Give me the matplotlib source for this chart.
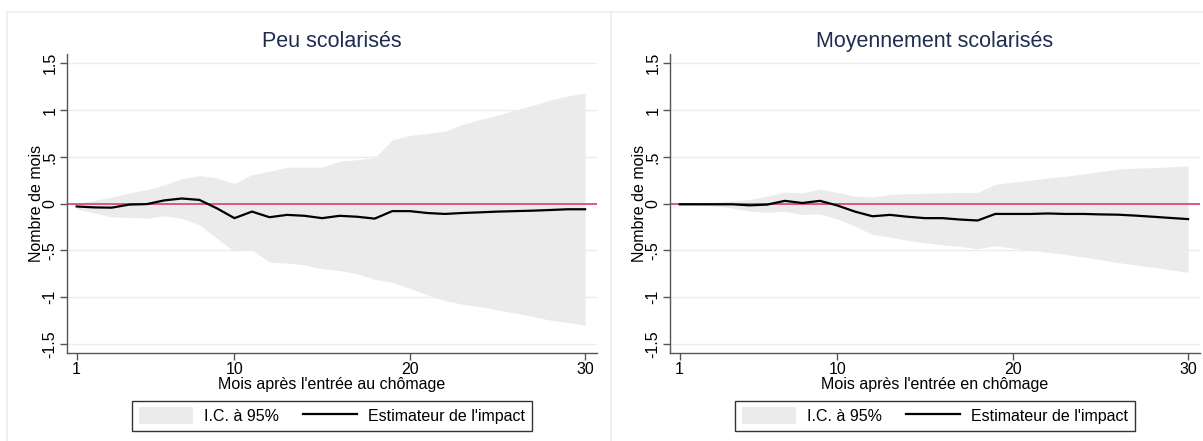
import numpy as np
import matplotlib
matplotlib.use("Agg")
import matplotlib.pyplot as plt
from matplotlib.lines import Line2D

plt.rcParams['font.family'] = ['Liberation Sans', 'DejaVu Sans']

months = np.arange(1, 31)

# Peu scolarisés
low_est = [-0.03, -0.04, -0.043, -0.01, -0.005, 0.035, 0.055, 0.04, -0.05, -0.155,
           -0.085, -0.145, -0.12, -0.13, -0.155, -0.13, -0.14, -0.16, -0.08, -0.08,
           -0.10, -0.11, -0.10, -0.093, -0.085, -0.08, -0.075, -0.068, -0.06, -0.06]
low_hi = [0.0, 0.035, 0.07, 0.115, 0.15, 0.2, 0.265, 0.30, 0.275, 0.215,
          0.31, 0.345, 0.39, 0.39, 0.39, 0.455, 0.47, 0.49, 0.68, 0.73,
          0.75, 0.775, 0.845, 0.9, 0.945, 1.0, 1.05, 1.105, 1.15, 1.185]
low_lo = [-0.057, -0.10, -0.143, -0.147, -0.155, -0.13, -0.157, -0.225, -0.37, -0.51,
          -0.49, -0.625, -0.635, -0.655, -0.695, -0.715, -0.75, -0.81, -0.84, -0.905,
          -0.975, -1.035, -1.075, -1.1, -1.135, -1.17, -1.205, -1.245, -1.27, -1.30]

# Moyennement scolarisés
mid_est = [-0.007, -0.007, -0.007, -0.007, -0.018, -0.01, 0.03, 0.007, 0.03, -0.02,
           -0.085, -0.135, -0.12, -0.14, -0.155, -0.155, -0.17, -0.18, -0.11, -0.11,
           -0.11, -0.105, -0.11, -0.11, -0.115, -0.118, -0.128, -0.14, -0.153, -0.165]
mid_hi = [0.003, 0.007, 0.015, 0.03, 0.045, 0.08, 0.125, 0.115, 0.155, 0.12,
          0.08, 0.07, 0.1, 0.107, 0.11, 0.115, 0.12, 0.12, 0.207, 0.23,
          0.25, 0.275, 0.293, 0.318, 0.343, 0.37, 0.38, 0.385, 0.393, 0.405]
mid_lo = [-0.015, -0.018, -0.025, -0.046, -0.08, -0.093, -0.082, -0.115, -0.11, -0.165,
          -0.24, -0.33, -0.357, -0.393, -0.42, -0.44, -0.457, -0.482, -0.45, -0.475,
          -0.5, -0.52, -0.543, -0.57, -0.6, -0.63, -0.655, -0.68, -0.707, -0.735]

yticks = [-1.5, -1, -0.5, 0, 0.5, 1, 1.5]
ytick_labels = ["-1.5", "-1", "-.5", "0", ".5", "1", "1.5"]
xticks = [1, 10, 20, 30]

panels = [
    ("Peu scolarisés", "Mois après l'entrée au chômage", low_est, low_lo, low_hi),
    ("Moyennement scolarisés", "Mois après l'entrée en chômage", mid_est, mid_lo, mid_hi),
]

W, H = 1203, 441
fig = plt.figure(figsize=(W / 100, H / 100), dpi=100)

# faint borders of the two graph regions
border = "#e6efef"
for xs, ys in [([7, 7], [12, 441]), ([611, 611], [12, 441]), ([7, 1203], [12, 12])]:
    fig.add_artist(Line2D([x / W for x in xs], [1 - y / H for y in ys],
                          transform=fig.transFigure, color=border, lw=1.2))

band_color = "#ebebeb"
axes_left = [67, 670]
for (title, xlabel, est, lo, hi), left in zip(panels, axes_left):
    ax = fig.add_axes([left / W, 87.7 / H, 530 / W, 299.3 / H])
    ax.fill_between(months, lo, hi, color=band_color, lw=0, label="I.C. à 95%")
    ax.axhline(0, color="#d8406a", lw=1.2, zorder=2)
    ax.plot(months, est, color="black", lw=1.6, zorder=3, label="Estimateur de l'impact")

    ax.set_xlim(0.45, 30.68)
    ax.set_ylim(-1.6, 1.6)
    ax.set_yticks(yticks)
    ax.set_yticklabels(ytick_labels, rotation=90, va="center")
    ax.set_xticks(xticks)
    ax.yaxis.grid(True, color="#e6efef", lw=1.0)
    ax.set_axisbelow(True)
    for s in ["top", "right"]:
        ax.spines[s].set_visible(False)
    for s in ["left", "bottom"]:
        ax.spines[s].set_color("#555555")
        ax.spines[s].set_linewidth(1.0)
    ax.tick_params(axis="both", colors="#555555", length=5, width=1.0,
                   labelsize=11.5, labelcolor="black")
    ax.tick_params(axis="y", pad=2)
    ax.tick_params(axis="x", pad=1)

    ax.set_title(title, fontsize=15.5, color="#1e2d4f", pad=5)
    ax.set_xlabel(xlabel, fontsize=11.5, labelpad=0)
    ax.set_ylabel("Nombre de mois", fontsize=11.5, labelpad=-1)

    leg = ax.legend(loc="upper center", bbox_to_anchor=(0.5, -0.158), ncol=2,
                    frameon=True, fancybox=False, fontsize=11.5, handlelength=3.4,
                    handleheight=1.3, handletextpad=0.7, columnspacing=1.5,
                    borderpad=0.4, borderaxespad=0)
    leg.get_frame().set_edgecolor("black")
    leg.get_frame().set_linewidth(1.0)

fig.savefig("out.png", dpi=100)
